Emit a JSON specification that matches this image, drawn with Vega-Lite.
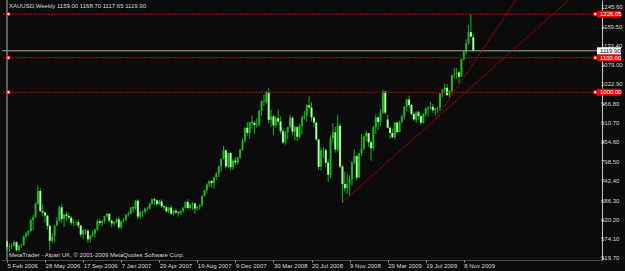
{
  "$schema": "https://vega.github.io/schema/vega-lite/v6.json",
  "width": 600,
  "height": 260,
  "autosize": {"type": "none"},
  "padding": {"left": 2, "top": 0, "right": 23, "bottom": 11},
  "background": "#0b0b0b",
  "config": {
    "view": {"stroke": null},
    "font": "Liberation Sans",
    "axis": {"labelFont": "Liberation Sans", "labelFontSize": 6, "labelColor": "#d8d8d8", "grid": false, "labelOverlap": false, "labelBound": false, "labelFlush": false}
  },
  "datasets": {
    "bars": [
      {"i":0,"o":568,"h":572,"l":543,"c":553},{"i":1,"o":553,"h":562,"l":538,"c":555},{"i":2,"o":555,"h":562,"l":546,"c":556},{"i":3,"o":556,"h":572,"l":553,"c":566},
      {"i":4,"o":566,"h":568,"l":539,"c":543},{"i":5,"o":543,"h":559,"l":539,"c":556},{"i":6,"o":556,"h":562,"l":550,"c":557},{"i":7,"o":557,"h":585,"l":556,"c":583},
      {"i":8,"o":583,"h":595,"l":578,"c":590},{"i":9,"o":590,"h":601,"l":585,"c":598},{"i":10,"o":598,"h":634,"l":596,"c":630},{"i":11,"o":630,"h":645,"l":601,"c":638},
      {"i":12,"o":638,"h":681,"l":636,"c":677},{"i":13,"o":677,"h":730,"l":675,"c":714},{"i":14,"o":714,"h":722,"l":655,"c":655},{"i":15,"o":655,"h":675,"l":640,"c":652},
      {"i":16,"o":652,"h":654,"l":623,"c":643},{"i":17,"o":643,"h":644,"l":603,"c":613},{"i":18,"o":613,"h":617,"l":543,"c":570},{"i":19,"o":570,"h":592,"l":565,"c":583},
      {"i":20,"o":583,"h":615,"l":566,"c":614},{"i":21,"o":614,"h":638,"l":612,"c":628},{"i":22,"o":628,"h":671,"l":626,"c":667},{"i":23,"o":667,"h":675,"l":622,"c":633},
      {"i":24,"o":633,"h":648,"l":610,"c":646},{"i":25,"o":646,"h":654,"l":628,"c":642},{"i":26,"o":642,"h":651,"l":632,"c":637},{"i":27,"o":637,"h":641,"l":616,"c":622},
      {"i":28,"o":622,"h":632,"l":613,"c":624},{"i":29,"o":624,"h":629,"l":614,"c":624},{"i":30,"o":624,"h":632,"l":607,"c":614},{"i":31,"o":614,"h":616,"l":581,"c":588},
      {"i":32,"o":588,"h":603,"l":573,"c":600},{"i":33,"o":600,"h":604,"l":588,"c":599},{"i":34,"o":599,"h":604,"l":563,"c":574},{"i":35,"o":574,"h":586,"l":564,"c":585},
      {"i":36,"o":585,"h":598,"l":581,"c":591},{"i":37,"o":591,"h":605,"l":580,"c":602},{"i":38,"o":602,"h":632,"l":598,"c":627},{"i":39,"o":627,"h":633,"l":614,"c":622},
      {"i":40,"o":622,"h":630,"l":612,"c":627},{"i":41,"o":627,"h":642,"l":620,"c":641},{"i":42,"o":641,"h":650,"l":637,"c":648},{"i":43,"o":648,"h":650,"l":624,"c":628},
      {"i":44,"o":628,"h":631,"l":609,"c":620},{"i":45,"o":620,"h":626,"l":612,"c":624},{"i":46,"o":624,"h":637,"l":620,"c":632},{"i":47,"o":632,"h":640,"l":603,"c":609},
      {"i":48,"o":609,"h":629,"l":603,"c":626},{"i":49,"o":626,"h":636,"l":623,"c":630},{"i":50,"o":630,"h":648,"l":627,"c":645},{"i":51,"o":645,"h":655,"l":640,"c":648},
      {"i":52,"o":648,"h":668,"l":647,"c":666},{"i":53,"o":666,"h":670,"l":652,"c":664},{"i":54,"o":664,"h":688,"l":660,"c":686},{"i":55,"o":686,"h":690,"l":632,"c":640},
      {"i":56,"o":640,"h":657,"l":634,"c":652},{"i":57,"o":652,"h":657,"l":638,"c":654},{"i":58,"o":654,"h":666,"l":648,"c":663},{"i":59,"o":663,"h":669,"l":656,"c":663},
      {"i":60,"o":663,"h":680,"l":660,"c":677},{"i":61,"o":677,"h":693,"l":675,"c":690},{"i":62,"o":690,"h":694,"l":675,"c":687},{"i":63,"o":687,"h":689,"l":670,"c":676},
      {"i":64,"o":676,"h":688,"l":672,"c":684},{"i":65,"o":684,"h":690,"l":665,"c":670},{"i":66,"o":670,"h":673,"l":659,"c":667},{"i":67,"o":667,"h":672,"l":652,"c":655},
      {"i":68,"o":655,"h":668,"l":650,"c":666},{"i":69,"o":666,"h":672,"l":646,"c":648},{"i":70,"o":648,"h":660,"l":643,"c":657},{"i":71,"o":657,"h":664,"l":647,"c":652},
      {"i":72,"o":652,"h":655,"l":640,"c":650},{"i":73,"o":650,"h":658,"l":645,"c":656},{"i":74,"o":656,"h":668,"l":651,"c":665},{"i":75,"o":665,"h":684,"l":663,"c":682},
      {"i":76,"o":682,"h":690,"l":661,"c":665},{"i":77,"o":665,"h":678,"l":660,"c":675},{"i":78,"o":675,"h":683,"l":660,"c":678},{"i":79,"o":678,"h":680,"l":648,"c":663},
      {"i":80,"o":663,"h":670,"l":657,"c":668},{"i":81,"o":668,"h":676,"l":660,"c":673},{"i":82,"o":673,"h":701,"l":669,"c":699},{"i":83,"o":699,"h":717,"l":699,"c":716},
      {"i":84,"o":716,"h":736,"l":707,"c":733},{"i":85,"o":733,"h":745,"l":725,"c":743},{"i":86,"o":743,"h":746,"l":724,"c":737},{"i":87,"o":737,"h":756,"l":720,"c":754},
      {"i":88,"o":754,"h":769,"l":746,"c":763},{"i":89,"o":763,"h":786,"l":755,"c":785},{"i":90,"o":785,"h":808,"l":770,"c":807},{"i":91,"o":807,"h":845,"l":805,"c":832},
      {"i":92,"o":832,"h":834,"l":780,"c":785},{"i":93,"o":785,"h":826,"l":780,"c":824},{"i":94,"o":824,"h":827,"l":775,"c":783},{"i":95,"o":783,"h":807,"l":776,"c":802},
      {"i":96,"o":802,"h":812,"l":790,"c":797},{"i":97,"o":797,"h":812,"l":791,"c":811},{"i":98,"o":811,"h":836,"l":808,"c":834},{"i":99,"o":834,"h":866,"l":830,"c":860},
      {"i":100,"o":860,"h":898,"l":855,"c":897},{"i":101,"o":897,"h":914,"l":874,"c":882},{"i":102,"o":882,"h":915,"l":865,"c":913},{"i":103,"o":913,"h":933,"l":896,"c":911},
      {"i":104,"o":911,"h":916,"l":880,"c":905},{"i":105,"o":905,"h":925,"l":897,"c":907},{"i":106,"o":907,"h":950,"l":900,"c":946},{"i":107,"o":946,"h":977,"l":932,"c":973},
      {"i":108,"o":973,"h":992,"l":960,"c":972},{"i":109,"o":972,"h":1003,"l":966,"c":999},{"i":110,"o":999,"h":1012,"l":910,"c":920},{"i":111,"o":920,"h":950,"l":900,"c":930},
      {"i":112,"o":930,"h":935,"l":875,"c":904},{"i":113,"o":904,"h":932,"l":897,"c":925},{"i":114,"o":925,"h":950,"l":905,"c":915},{"i":115,"o":915,"h":930,"l":880,"c":887},
      {"i":116,"o":887,"h":898,"l":850,"c":855},{"i":117,"o":855,"h":888,"l":848,"c":884},{"i":118,"o":884,"h":900,"l":863,"c":899},{"i":119,"o":899,"h":935,"l":895,"c":926},
      {"i":120,"o":926,"h":930,"l":876,"c":886},{"i":121,"o":886,"h":903,"l":860,"c":899},{"i":122,"o":899,"h":902,"l":858,"c":871},{"i":123,"o":871,"h":908,"l":866,"c":903},
      {"i":124,"o":903,"h":932,"l":878,"c":926},{"i":125,"o":926,"h":946,"l":920,"c":932},{"i":126,"o":932,"h":965,"l":914,"c":962},{"i":127,"o":962,"h":988,"l":950,"c":956},
      {"i":128,"o":956,"h":970,"l":915,"c":927},{"i":129,"o":927,"h":930,"l":900,"c":912},{"i":130,"o":912,"h":915,"l":860,"c":863},{"i":131,"o":863,"h":865,"l":775,"c":784},
      {"i":132,"o":784,"h":840,"l":774,"c":832},{"i":133,"o":832,"h":840,"l":810,"c":832},{"i":134,"o":832,"h":837,"l":785,"c":796},{"i":135,"o":796,"h":806,"l":740,"c":761},
      {"i":136,"o":761,"h":875,"l":750,"c":866},{"i":137,"o":866,"h":910,"l":855,"c":884},{"i":138,"o":884,"h":900,"l":825,"c":834},{"i":139,"o":834,"h":935,"l":828,"c":903},
      {"i":140,"o":903,"h":910,"l":780,"c":785},{"i":141,"o":785,"h":790,"l":681,"c":734},{"i":142,"o":734,"h":771,"l":712,"c":722},{"i":143,"o":722,"h":764,"l":705,"c":735},
      {"i":144,"o":735,"h":760,"l":700,"c":748},{"i":145,"o":748,"h":800,"l":730,"c":797},{"i":146,"o":797,"h":835,"l":790,"c":815},{"i":147,"o":815,"h":818,"l":745,"c":753},
      {"i":148,"o":753,"h":823,"l":751,"c":823},{"i":149,"o":823,"h":880,"l":815,"c":837},{"i":150,"o":837,"h":874,"l":833,"c":872},{"i":151,"o":872,"h":889,"l":858,"c":882},
      {"i":152,"o":882,"h":882,"l":841,"c":855},{"i":153,"o":855,"h":860,"l":802,"c":838},{"i":154,"o":838,"h":903,"l":832,"c":898},{"i":155,"o":898,"h":935,"l":880,"c":927},
      {"i":156,"o":927,"h":930,"l":890,"c":914},{"i":157,"o":914,"h":951,"l":903,"c":941},{"i":158,"o":941,"h":1007,"l":937,"c":1002},{"i":159,"o":1002,"h":1003,"l":935,"c":941},
      {"i":160,"o":921,"h":934,"l":895,"c":897},{"i":161,"o":897,"h":901,"l":865,"c":882},{"i":162,"o":882,"h":895,"l":867,"c":870},{"i":163,"o":870,"h":915,"l":864,"c":912},
      {"i":164,"o":912,"h":914,"l":880,"c":885},{"i":165,"o":885,"h":918,"l":885,"c":915},{"i":166,"o":915,"h":935,"l":910,"c":930},{"i":167,"o":930,"h":960,"l":921,"c":958},
      {"i":168,"o":958,"h":980,"l":945,"c":979},{"i":169,"o":979,"h":990,"l":955,"c":963},{"i":170,"o":963,"h":966,"l":933,"c":937},{"i":171,"o":937,"h":944,"l":917,"c":921},
      {"i":172,"o":921,"h":945,"l":911,"c":942},{"i":173,"o":942,"h":947,"l":920,"c":931},{"i":174,"o":931,"h":935,"l":905,"c":912},{"i":175,"o":912,"h":939,"l":910,"c":937},
      {"i":176,"o":937,"h":956,"l":930,"c":952},{"i":177,"o":952,"h":960,"l":930,"c":955},{"i":178,"o":955,"h":972,"l":950,"c":958},{"i":179,"o":958,"h":966,"l":940,"c":948},
      {"i":180,"o":948,"h":954,"l":932,"c":953},{"i":181,"o":953,"h":958,"l":940,"c":955},{"i":182,"o":955,"h":997,"l":946,"c":996},{"i":183,"o":996,"h":1010,"l":985,"c":1006},
      {"i":184,"o":1006,"h":1025,"l":996,"c":1013},{"i":185,"o":1013,"h":1024,"l":990,"c":991},{"i":186,"o":991,"h":1007,"l":985,"c":1003},{"i":187,"o":1003,"h":1050,"l":997,"c":1050},
      {"i":188,"o":1050,"h":1070,"l":1040,"c":1052},{"i":189,"o":1052,"h":1070,"l":1040,"c":1057},{"i":190,"o":1057,"h":1061,"l":1026,"c":1045},{"i":191,"o":1045,"h":1098,"l":1045,"c":1095},
      {"i":192,"o":1095,"h":1120,"l":1092,"c":1118},{"i":193,"o":1118,"h":1153,"l":1110,"c":1142},{"i":194,"o":1142,"h":1195,"l":1137,"c":1174},{"i":195,"o":1174,"h":1226.05,"l":1160,"c":1161},
      {"i":196,"o":1159,"h":1168.7,"l":1117.65,"c":1119.9}
    ],
    "levels": [
      {"p": 1226.05, "t": "1226.05"},
      {"p": 1100, "t": "1100.00"},
      {"p": 1000, "t": "1000.00"}
    ],
    "trends": [
      {"id": "a", "i": 141, "p": 681},
      {"id": "a", "i": 250, "p": 1352},
      {"id": "b", "i": 180.5, "p": 925},
      {"id": "b", "i": 230, "p": 1432}
    ],
    "yticks": [
      {"p": 519.7, "t": "519.70"}, {"p": 574.1, "t": "574.10"}, {"p": 630.2, "t": "630.20"}, {"p": 686.3, "t": "686.30"},
      {"p": 742.4, "t": "742.40"}, {"p": 798.5, "t": "798.50"}, {"p": 854.6, "t": "854.60"}, {"p": 910.7, "t": "910.70"},
      {"p": 966.8, "t": "966.80"}, {"p": 1022.9, "t": "1022.90"}, {"p": 1079.0, "t": "1079.00"}, {"p": 1133.4, "t": "1133.40"},
      {"p": 1189.5, "t": "1189.50"}, {"p": 1245.6, "t": "1245.60"}
    ],
    "last": [{"p": 1119.9, "t": "1119.90"}],
    "head": [{"t": "XAUUSD,Weekly  1159.00 1168.70 1117.65 1119.90", "x": 0, "p": 1267}],
    "foot": [{"t": "MetaTrader - Alpari UK, © 2001-2009 MetaQuotes Software Corp.", "x": 0, "p": 514.3}],
    "edge": [{"x": 0}]
  },
  "layer": [
    {
      "data": {"name": "bars"},
      "mark": {"type": "rule", "color": "#12b412", "strokeWidth": 1},
      "encoding": {
        "x": {"field": "i", "type": "quantitative", "title": null,
          "scale": {"domain": [0, 248], "nice": false, "zero": false},
          "axis": {
            "orient": "bottom",
            "values": [0, 16, 32, 48, 64, 80, 96, 112, 128, 144, 160, 176, 192],
            "labelExpr": "['5 Feb 2006','28 May 2006','17 Sep 2006','7 Jan 2007','29 Apr 2007','19 Aug 2007','9 Dec 2007','30 Mar 2008','20 Jul 2008','9 Nov 2008','29 Mar 2009','19 Jul 2009','8 Nov 2009'][round(datum.value/16)]",
            "labelAlign": "left", "labelPadding": 0, "labelFlush": false, "labelOverlap": false, "labelBound": false,
            "tickSize": 2, "tickColor": "#a0a0a0", "domainColor": "#8c8c8c", "domainDash": [1, 1]
          }
        },
        "y": {"field": "l", "type": "quantitative", "title": null,
          "scale": {"domain": [514.3, 1267], "nice": false, "zero": false},
          "axis": {
            "orient": "right",
            "values": [519.7, 574.1, 630.2, 686.3, 742.4, 798.5, 854.6, 910.7, 966.8, 1022.9, 1079.0, 1133.4, 1189.5, 1245.6],
            "labels": false,
            "tickSize": 2, "tickColor": "#a0a0a0", "domainColor": "#c0c0c0"
          }
        },
        "y2": {"field": "h"}
      }
    },
    {
      "data": {"name": "bars"},
      "mark": {"type": "bar", "size": 2},
      "encoding": {
        "x": {"field": "i", "type": "quantitative", "title": null},
        "y": {"field": "o", "type": "quantitative", "title": null},
        "y2": {"field": "c"},
        "color": {"condition": {"test": "datum.c >= datum.o", "value": "#1fb41f"}, "value": "#a4ff9c"}
      }
    },
    {
      "data": {"name": "edge"},
      "mark": {"type": "rule", "color": "#b0b0b0", "strokeWidth": 1},
      "encoding": {"x": {"field": "x", "type": "quantitative", "title": null}}
    },
    {
      "data": {"name": "last"},
      "mark": {"type": "rule", "color": "#a8a8a8", "strokeWidth": 1},
      "encoding": {"y": {"field": "p", "type": "quantitative", "title": null}}
    },
    {
      "data": {"name": "levels"},
      "mark": {"type": "rule", "color": "#c40000", "strokeWidth": 1, "strokeDash": [2, 1]},
      "encoding": {"y": {"field": "p", "type": "quantitative", "title": null}}
    },
    {
      "data": {"name": "trends"},
      "mark": {"type": "line", "color": "#c40000", "strokeWidth": 1, "strokeDash": [2, 1], "clip": true},
      "encoding": {
        "x": {"field": "i", "type": "quantitative", "title": null},
        "y": {"field": "p", "type": "quantitative", "title": null},
        "detail": {"field": "id"}
      }
    },
    {
      "data": {"name": "levels"},
      "mark": {"type": "point", "shape": "square", "size": 10, "filled": true, "color": "#ffffff", "stroke": "#e00000", "strokeWidth": 1, "opacity": 1},
      "encoding": {
        "x": {"datum": 0.6, "type": "quantitative", "title": null},
        "y": {"field": "p", "type": "quantitative", "title": null}
      }
    },
    {
      "data": {"name": "levels"},
      "mark": {"type": "point", "shape": "square", "size": 10, "filled": true, "color": "#ffffff", "stroke": "#e00000", "strokeWidth": 1, "opacity": 1},
      "encoding": {
        "x": {"datum": 247.3, "type": "quantitative", "title": null},
        "y": {"field": "p", "type": "quantitative", "title": null}
      }
    },
    {
      "data": {"name": "yticks"},
      "mark": {"type": "text", "color": "#d8d8d8", "align": "left", "baseline": "middle", "dx": 4, "fontSize": 6, "font": "Liberation Sans", "clip": false},
      "encoding": {
        "x": {"datum": 248, "type": "quantitative", "title": null},
        "y": {"field": "p", "type": "quantitative", "title": null},
        "text": {"field": "t"}
      }
    },
    {
      "data": {"name": "levels"},
      "mark": {"type": "rect", "color": "#e00808", "clip": false, "x2Offset": 24, "yOffset": -3.5, "y2Offset": 3.5},
      "encoding": {
        "x": {"datum": 248, "type": "quantitative", "title": null},
        "x2": {"datum": 248},
        "y": {"field": "p", "type": "quantitative", "title": null},
        "y2": {"field": "p"}
      }
    },
    {
      "data": {"name": "levels"},
      "mark": {"type": "text", "color": "#ffffff", "align": "left", "baseline": "middle", "dx": 3, "fontSize": 6, "font": "Liberation Sans", "clip": false},
      "encoding": {
        "x": {"datum": 248, "type": "quantitative", "title": null},
        "y": {"field": "p", "type": "quantitative", "title": null},
        "text": {"field": "t"}
      }
    },
    {
      "data": {"name": "last"},
      "mark": {"type": "rect", "color": "#ffffff", "clip": false, "x2Offset": 24, "yOffset": -3.5, "y2Offset": 3.5},
      "encoding": {
        "x": {"datum": 248, "type": "quantitative", "title": null},
        "x2": {"datum": 248},
        "y": {"field": "p", "type": "quantitative", "title": null},
        "y2": {"field": "p"}
      }
    },
    {
      "data": {"name": "last"},
      "mark": {"type": "text", "color": "#000000", "align": "left", "baseline": "middle", "dx": 3, "fontSize": 6, "font": "Liberation Sans", "clip": false},
      "encoding": {
        "x": {"datum": 248, "type": "quantitative", "title": null},
        "y": {"field": "p", "type": "quantitative", "title": null},
        "text": {"field": "t"}
      }
    },
    {
      "data": {"name": "head"},
      "mark": {"type": "text", "color": "#d8d8d8", "align": "left", "baseline": "middle", "dx": 2, "dy": 6, "fontSize": 6, "font": "Liberation Sans"},
      "encoding": {
        "x": {"field": "x", "type": "quantitative", "title": null},
        "y": {"field": "p", "type": "quantitative", "title": null},
        "text": {"field": "t"}
      }
    },
    {
      "data": {"name": "foot"},
      "mark": {"type": "text", "color": "#d8d8d8", "align": "left", "baseline": "middle", "dx": 2, "dy": -5, "fontSize": 6, "font": "Liberation Sans"},
      "encoding": {
        "x": {"field": "x", "type": "quantitative", "title": null},
        "y": {"field": "p", "type": "quantitative", "title": null},
        "text": {"field": "t"}
      }
    }
  ]
}
